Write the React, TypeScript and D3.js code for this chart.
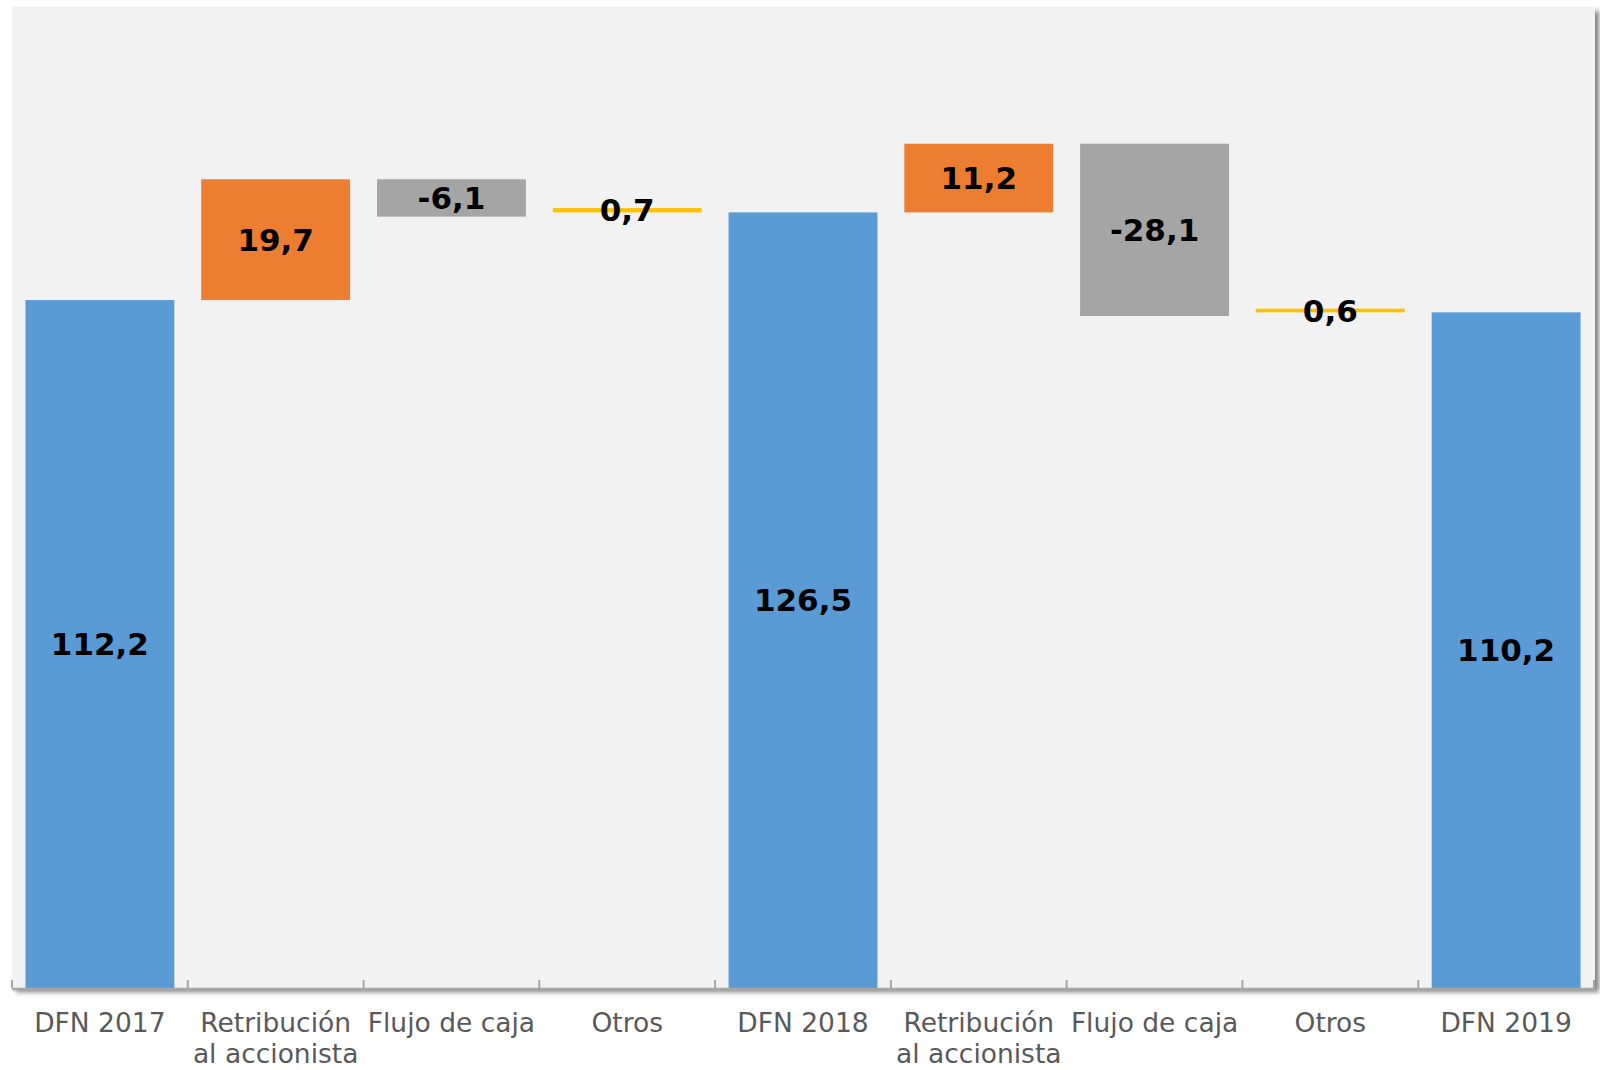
import * as d3 from 'd3';
import { useEffect, useRef } from 'react';

const width = 1600;
const height = 1070;

// categories (two-line labels split by |)
const categories = [
    'DFN 2017',
    'Retribución|al accionista',
    'Flujo de caja',
    'Otros',
    'DFN 2018',
    'Retribución|al accionista',
    'Flujo de caja',
    'Otros',
    'DFN 2019',
];
const values = [112.2, 19.7, -6.1, 0.7, 126.5, 11.2, -28.1, 0.6, 110.2];
const kinds = ['total', 'up', 'down', 'other', 'total', 'up', 'down', 'other', 'total'];

const colors: Record<string, string> = {
    total: '#5b9bd5',
    up: '#ed7d31',
    down: '#a5a5a5',
    other: '#ffc000',
};

type Step = { i: number; label: string; value: number; kind: string; y0: number; y1: number };

function buildSteps(): Step[] {
    let running = 0;
    return values.map((v, i) => {
        const kind = kinds[i];
        let y0: number, y1: number;
        if (kind === 'total') {
            y0 = 0;
            y1 = v;
            running = v;
        } else if (kind === 'other') {
            // the small "Otros" bar sits on top of the next total, as in the source chart
            y0 = running + v;
            y1 = y0 + v;
            running = running + v;
        } else {
            y0 = running;
            y1 = running + v;
            running = y1;
        }
        return { i, label: categories[i], value: v, kind, y0, y1 };
    });
}

const locale = d3.formatLocale({ decimal: ',', thousands: '.', grouping: [3], currency: ['', '€'], minus: '-' });
const fmt = locale.format('.1f');

const App = () => {
    const ref = useRef<SVGSVGElement | null>(null);

    useEffect(() => {
        const svg = d3.select(ref.current).attr('width', width).attr('height', height);
        svg.selectAll('*').remove();

        const steps = buildSteps();

        const left = 12, right = 1594, top = 7, bottom = 988;

        const x = d3.scaleBand<number>()
            .domain(steps.map(d => d.i))
            .range([left, right])
            .paddingInner(0.153)
            .paddingOuter(0.0765);

        const y = d3.scaleLinear()
            .domain([0, 160])
            .range([bottom, top]);

        const defs = svg.append('defs');
        const f = defs.append('filter').attr('id', 'shadow')
            .attr('x', '-2%').attr('y', '-2%').attr('width', '105%').attr('height', '105%');
        f.append('feDropShadow')
            .attr('dx', 4).attr('dy', 4).attr('stdDeviation', 2.5)
            .attr('flood-color', '#000').attr('flood-opacity', 0.5);

        // panel
        svg.append('rect')
            .attr('x', left).attr('y', top)
            .attr('width', right - left + 1).attr('height', bottom - top)
            .attr('fill', '#f2f2f2')
            .attr('filter', 'url(#shadow)');

        // bars
        svg.append('g').selectAll('rect')
            .data(steps)
            .enter()
            .append('rect')
            .attr('x', d => x(d.i)!)
            .attr('width', x.bandwidth())
            .attr('y', d => y(Math.max(d.y0, d.y1)))
            .attr('height', d => Math.abs(y(d.y0) - y(d.y1)))
            .attr('fill', d => colors[d.kind]);

        // axis line + ticks between categories
        const axis = svg.append('g').attr('stroke', '#a6a6a6');
        axis.append('line')
            .attr('x1', left).attr('x2', right + 1)
            .attr('y1', bottom + 1).attr('y2', bottom + 1)
            .attr('stroke-width', 2.5);
        d3.range(categories.length + 1).forEach(k => {
            const tx = left + k * x.step();
            axis.append('line')
                .attr('x1', tx).attr('x2', tx)
                .attr('y1', bottom).attr('y2', bottom - 8)
                .attr('stroke-width', 2);
        });

        // value labels
        svg.append('g').selectAll('text')
            .data(steps)
            .enter()
            .append('text')
            .attr('x', d => x(d.i)! + x.bandwidth() / 2)
            .attr('y', d => (y(d.y0) + y(d.y1)) / 2)
            .attr('dy', '0.36em')
            .attr('text-anchor', 'middle')
            .attr('font-family', 'DejaVu Sans, Verdana, sans-serif')
            .attr('font-weight', 'bold')
            .attr('font-size', 31)
            .attr('fill', '#000')
            .text(d => fmt(d.value));

        // category labels
        const cat = svg.append('g')
            .attr('font-family', 'DejaVu Sans, Verdana, sans-serif')
            .attr('font-size', 26.5)
            .attr('fill', '#595959')
            .attr('text-anchor', 'middle');
        steps.forEach(d => {
            const t = cat.append('text')
                .attr('x', x(d.i)! + x.bandwidth() / 2)
                .attr('y', 1032);
            d.label.split('|').forEach((line, j) => {
                t.append('tspan')
                    .attr('x', x(d.i)! + x.bandwidth() / 2)
                    .attr('dy', j === 0 ? 0 : 31)
                    .text(line);
            });
        });
    }, [ref]);

    return <svg ref={ref} style={{ position: 'absolute', left: 0, top: 0, display: 'block' }} />;
};

export default App;
